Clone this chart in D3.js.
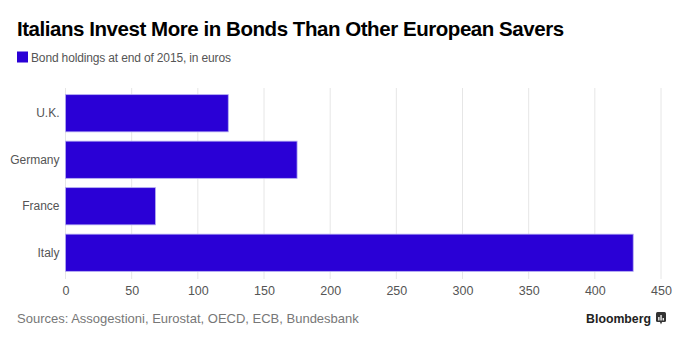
<!DOCTYPE html>
<html>
<head>
<meta charset="utf-8">
<script src="https://cdn.jsdelivr.net/npm/d3@7"></script>
<style>
  html, body { margin: 0; padding: 0; background: #fff; }
  svg { display: block; font-family: "Liberation Sans", Arial, Helvetica, sans-serif; }
</style>
</head>
<body>
<svg id="chart" width="684" height="343"></svg>
<script>
// Bond holdings at end of 2015, in euros
const countries = ["U.K.", "Germany", "France", "Italy"];
const holdings = [123, 175, 68, 429];
const xTicks = [0, 50, 100, 150, 200, 250, 300, 350, 400, 450];

const titleText = "Italians Invest More in Bonds Than Other European Savers";
const legendText = "Bond holdings at end of 2015, in euros";
const sourceText = "Sources: Assogestioni, Eurostat, OECD, ECB, Bundesbank";

const barColor = "#2a00d6";

const svg = d3.select("#chart");

const x = d3.scaleLinear().domain([0, 450]).range([65.5, 661]);
const y = d3.scaleBand().domain(countries).range([90, 276])
  .paddingInner(0.2).paddingOuter(0.1);

// Title
svg.append("text")
  .attr("x", 17).attr("y", 36)
  .attr("font-size", 20.5).attr("font-weight", "bold")
  .attr("fill", "#000")
  .attr("letter-spacing", -0.45)
  .text(titleText);

// Legend
svg.append("rect")
  .attr("x", 17).attr("y", 51.5).attr("width", 11).attr("height", 11)
  .attr("fill", barColor);
svg.append("text")
  .attr("x", 31).attr("y", 62)
  .attr("font-size", 12).attr("fill", "#555")
  .attr("letter-spacing", -0.15)
  .text(legendText);

// Vertical gridlines
svg.append("g")
  .selectAll("line")
  .data(xTicks)
  .join("line")
  .attr("x1", d => x(d)).attr("x2", d => x(d))
  .attr("y1", 88).attr("y2", 279)
  .attr("stroke", "#e6e6e6").attr("stroke-width", 1);

// Bars
svg.append("g")
  .selectAll("rect")
  .data(countries)
  .join("rect")
  .attr("x", x(0))
  .attr("y", d => y(d))
  .attr("width", (d, i) => x(holdings[i]) - x(0))
  .attr("height", y.bandwidth())
  .attr("fill", barColor)
  .attr("stroke", "#b4acf2").attr("stroke-width", 0.8);

// Category axis
const yAxis = svg.append("g")
  .attr("transform", `translate(${x(0)},0)`)
  .call(d3.axisLeft(y).tickSize(0).tickPadding(6));
yAxis.select(".domain").remove();
yAxis.selectAll("text")
  .attr("font-size", 12).attr("fill", "#555")
  .attr("font-family", "Liberation Sans, Arial, sans-serif");

// Value axis
const xAxis = svg.append("g")
  .attr("transform", "translate(0,282)")
  .call(d3.axisBottom(x).tickValues(xTicks).tickSize(0).tickPadding(4));
xAxis.select(".domain").remove();
xAxis.selectAll("text")
  .attr("font-size", 12.5).attr("fill", "#555")
  .attr("font-family", "Liberation Sans, Arial, sans-serif");

// Source note
svg.append("text")
  .attr("x", 17).attr("y", 323)
  .attr("font-size", 13).attr("fill", "#777")
  .text(sourceText);

// Brand mark
svg.append("text")
  .attr("x", 651).attr("y", 323)
  .attr("text-anchor", "end")
  .attr("font-size", 12.3).attr("font-weight", "bold")
  .attr("fill", "#222")
  .text("Bloomberg");
const logo = svg.append("g").attr("transform", "translate(656,312)");
logo.append("rect").attr("x", 0).attr("y", 0).attr("width", 10).attr("height", 10)
  .attr("rx", 1.5).attr("fill", "#333");
logo.append("path").attr("d", "M4,10 L5,12.5 L6,10 Z").attr("fill", "#333");
[[2.2, 5], [4.4, 3], [6.6, 6]].forEach(([bx, by]) => {
  logo.append("rect").attr("x", bx).attr("y", by).attr("width", 1.3)
    .attr("height", 8.5 - by).attr("fill", "#fff");
});
</script>
</body>
</html>
